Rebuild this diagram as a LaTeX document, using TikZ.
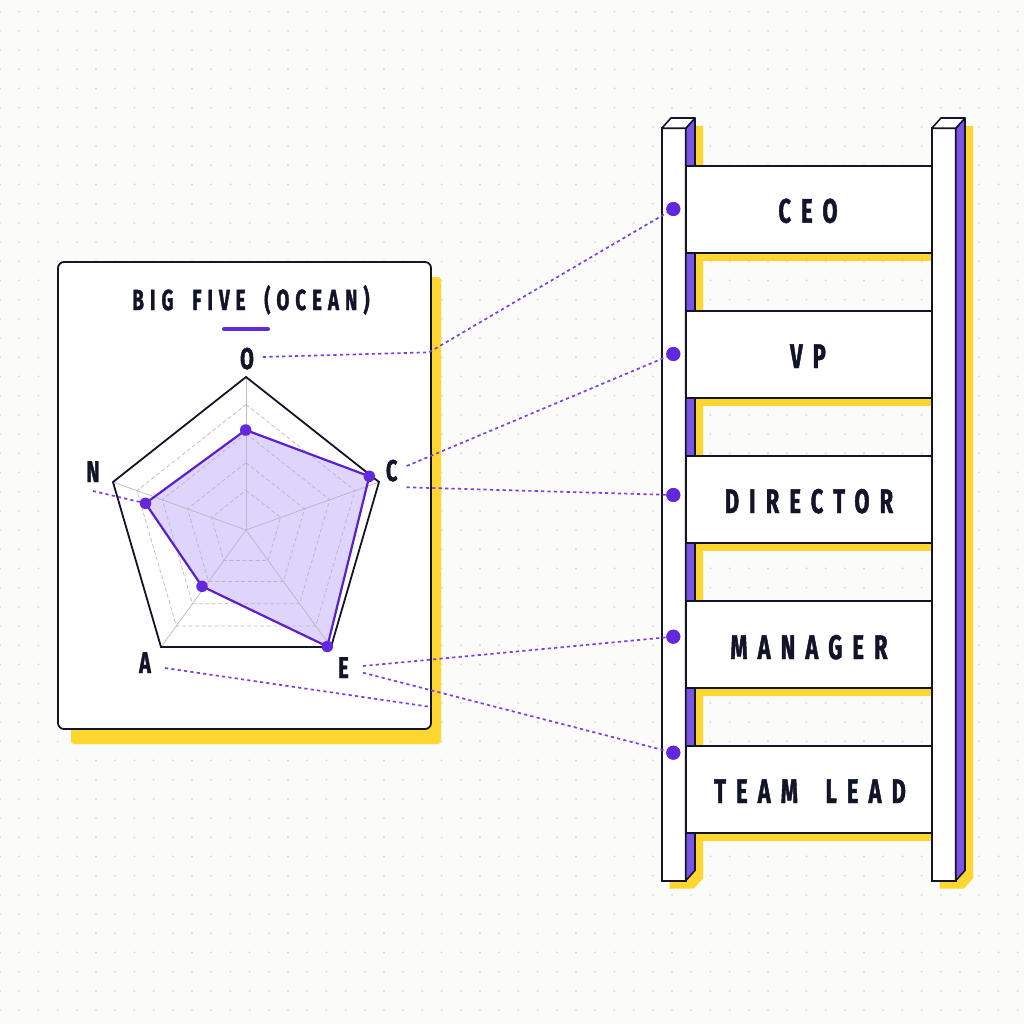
\documentclass[tikz,border=0pt]{standalone}
\usepackage{fontspec}
\usetikzlibrary{calc}
\newfontfamily\condfont{Fira Sans}[FakeStretch=0.66,FakeBold=1.3]
\newfontfamily\condtitle{Fira Sans}[FakeStretch=0.64,FakeBold=1.3,LetterSpace=21,WordSpace=1.8]
\newfontfamily\condrung{Fira Sans}[FakeStretch=0.64,FakeBold=1.3,LetterSpace=30,WordSpace=1.8]
\definecolor{bgc}{HTML}{FBFBF9}
\definecolor{dotc}{HTML}{D9D9DD}
\definecolor{ink}{HTML}{12142A}
\definecolor{ylw}{HTML}{FFD630}
\definecolor{sidep}{HTML}{7B55E6}
\definecolor{polyp}{HTML}{5A1FD1}
\definecolor{dotp}{HTML}{6328DC}
\definecolor{fillp}{HTML}{DCD0FB}
\definecolor{connp}{HTML}{7A3FE8}
\definecolor{gridc}{HTML}{B3B1BE}
\tikzset{
  shadowfill/.style={fill=ylw},
  solidbox/.style={draw=ink,line width=1.8pt,fill=white},
  sidebox/.style={draw=ink,line width=1.6pt,fill=sidep,line join=round},
  conn/.style={draw=connp,line width=1.7pt,dash pattern=on 3.2pt off 3.2pt},
  datadot/.style={circle,fill=dotp,inner sep=0pt,minimum size=11.5pt},
  raildot/.style={circle,fill=dotp,inner sep=0pt,minimum size=14pt},
  gridring/.style={draw=gridc,line width=0.75pt,dash pattern=on 4pt off 2.5pt,opacity=0.85},
  gridaxis/.style={draw=gridc,line width=0.75pt,opacity=0.85},
  axislabel/.style={anchor=base,inner sep=0pt,text=ink,font=\condfont\bfseries\fontsize{30}{32}\selectfont},
  runglabel/.style={anchor=base,inner sep=0pt,text=ink,font=\condrung\bfseries\fontsize{34}{36}\selectfont},
  titlelabel/.style={anchor=base,inner sep=0pt,text=ink,font=\condtitle\bfseries\fontsize{29}{31}\selectfont},
}
\begin{document}
\begin{tikzpicture}[x=1pt,y=-1pt]
\useasboundingbox (0,0) rectangle (1024,1024);
\fill[bgc] (0,0) rectangle (1024,1024);
\foreach \i in {0,...,53}{
  \foreach \j in {0,...,53}{
    \fill[dotc] (19.2*\i,11.7+19.2*\j) circle (1.1pt);
  }
}
% ---------------- card ----------------
\fill[shadowfill,rounded corners=3pt] (71,277) rectangle (441,744);
\draw[solidbox,rounded corners=6pt] (58,262) rectangle (431,729);
\node[titlelabel] (title) at (251,310) {BIG FIVE (OCEAN)};
\draw[draw=dotp,line width=4pt,line cap=round] (224,329) -- (268,329);
% ---------------- radar ----------------
\coordinate (c) at (246,530);
\coordinate (vO) at (246,377);
\coordinate (vC) at (379,482);
\coordinate (vE) at (331,647);
\coordinate (vA) at (161,647);
\coordinate (vN) at (113,482);
\coordinate (pO) at (245.7,430);
\coordinate (pC) at (369.3,476.3);
\coordinate (pE) at (327.3,646.5);
\coordinate (pA) at (202,586.3);
\coordinate (pN) at (145.5,503.3);
\fill[fillp,opacity=0.9] (pO) -- (pC) -- (pE) -- (pA) -- (pN) -- cycle;
\foreach \r in {0.26,0.44,0.63,0.82}{
  \draw[gridring] ($(c)!\r!(vO)$) -- ($(c)!\r!(vC)$) -- ($(c)!\r!(vE)$) -- ($(c)!\r!(vA)$) -- ($(c)!\r!(vN)$) -- cycle;
}
\foreach \v in {vO,vC,vE,vA,vN}{
  \draw[gridaxis] (c) -- (\v);
}
\draw[draw=ink,line width=1.8pt,line join=miter] (vO) -- (vC) -- (vE) -- (vA) -- (vN) -- cycle;
\draw[draw=polyp,line width=2.2pt,line join=round] (pO) -- (pC) -- (pE) -- (pA) -- (pN) -- cycle;
\node[datadot] (dO) at (pO) {};
\node[datadot] (dC) at (pC) {};
\node[datadot] (dE) at (pE) {};
\node[datadot] (dA) at (pA) {};
\node[datadot] (dN) at (pN) {};
\node[axislabel] (lO) at (247,369) {O};
\node[axislabel] (lN) at (93,482) {N};
\node[axislabel] (lC) at (391.7,481) {C};
\node[axislabel] (lA) at (145,673) {A};
\node[axislabel] (lE) at (343.5,678) {E};
% ---------------- ladder: shadows ----------------
\fill[shadowfill] (669.7,136.3) -- (679,126) -- (703,126) -- (703,878.4) -- (693.7,888.7) -- (669.7,888.7) -- cycle;
\fill[shadowfill] (939.7,136.3) -- (949,126) -- (973,126) -- (973,878.4) -- (963.7,888.7) -- (939.7,888.7) -- cycle;
\foreach \t in {166,311,456,601,746}{
  \fill[shadowfill] (693.7,\t+8) rectangle (939.7,\t+95);
}
% ---------------- ladder: rails ----------------
\draw[solidbox] (661.7,128.3) rectangle (685.7,880.7);
\draw[sidebox] (685.7,128.3) -- (695,118) -- (695,870.4) -- (685.7,880.7) -- cycle;
\draw[solidbox,line width=1.6pt,line join=round] (661.7,128.3) -- (671,118) -- (695,118) -- (685.7,128.3) -- cycle;
\draw[solidbox] (931.7,128.3) rectangle (955.7,880.7);
\draw[sidebox] (955.7,128.3) -- (965,118) -- (965,870.4) -- (955.7,880.7) -- cycle;
\draw[solidbox,line width=1.6pt,line join=round] (931.7,128.3) -- (941,118) -- (965,118) -- (955.7,128.3) -- cycle;
% ---------------- ladder: rungs ----------------
\foreach \t in {166,311,456,601,746}{
  \draw[solidbox] (685.7,\t) rectangle (931.7,\t+87);
}
\node[runglabel] (tCEO) at (808,222.7) {CEO};
\node[runglabel] (tVP) at (808,368) {VP};
\node[runglabel] (tDIR) at (809,513) {DIRECTOR};
\node[runglabel] (tMGR) at (809,659) {MANAGER};
\node[runglabel] (tTL) at (810,803) {TEAM LEAD};
% ---------------- rail dots ----------------
\node[raildot] (rCEO) at (673.3,209) {};
\node[raildot] (rVP) at (673.3,354) {};
\node[raildot] (rDIR) at (673.3,495) {};
\node[raildot] (rMGR) at (673.3,636.7) {};
\node[raildot] (rTL) at (673.3,752.7) {};
% ---------------- connectors ----------------
\coordinate (sO) at (263,357);
\coordinate (bO) at (429,352.3);
\coordinate (sC1) at (406.7,466);
\coordinate (sC2) at (406.7,487.3);
\coordinate (sE1) at (363,666);
\coordinate (sE2) at (363,672.7);
\coordinate (sA) at (165,668);
\coordinate (eA) at (431,707);
\coordinate (sN) at (93,491);
\draw[conn] (sO) -- (bO) -- (rCEO);
\draw[conn] (sC1) -- (rVP);
\draw[conn] (sC2) -- (rDIR);
\draw[conn] (sE1) -- (rMGR);
\draw[conn] (sE2) -- (rTL);
\draw[conn] (sA) -- (eA);
\draw[conn] (sN) -- (dN);
\node[raildot] at (rCEO) {};
\node[raildot] at (rVP) {};
\node[raildot] at (rDIR) {};
\node[raildot] at (rMGR) {};
\node[raildot] at (rTL) {};
\end{tikzpicture}
\end{document}
